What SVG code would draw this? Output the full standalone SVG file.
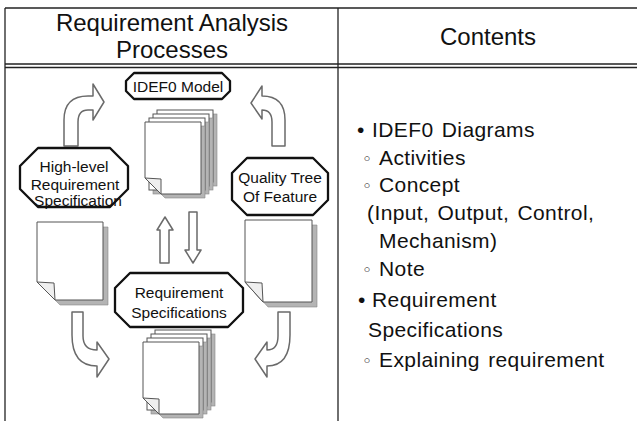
<svg xmlns="http://www.w3.org/2000/svg" width="637" height="421" viewBox="0 0 637 421">
  <style>
    .grid { stroke: #222; stroke-width: 1.3; fill: none; }
    .head { font-family: "Liberation Sans", Arial, sans-serif; font-size: 24px; fill: #111; text-anchor: middle; }
    .node { fill: #fff; stroke: #111; stroke-width: 2.3; stroke-linejoin: round; }
    .lbl { font-family: "Liberation Sans", Arial, sans-serif; font-size: 15.5px; fill: #111; text-anchor: middle; }
    .page { fill: #fff; stroke: #555; stroke-width: 1; }
    .shade { fill: #b4b4b4; stroke: #888; stroke-width: 0.6; }
    .flap { fill: #efefef; stroke: #555; stroke-width: 1; stroke-linejoin: round; }
    .arrow { fill: #fff; stroke: #6a6a6a; stroke-width: 1.5; stroke-linejoin: round; }
    .list { font-family: "Liberation Sans", Arial, sans-serif; font-size: 21px; fill: #111; letter-spacing: 0.4px; word-spacing: 2px; }
    .ring { font-family: "DejaVu Sans", sans-serif; font-size: 17px; }
  </style>

  <defs>
    <!-- one sheet of a stack: plain sheet with drop shadow -->
    <g id="sheet">
      <rect class="shade" x="4" y="4" width="56" height="72"/>
      <rect class="page" x="0" y="0" width="56" height="72"/>
    </g>
    <!-- front sheet with the lower-left corner folded -->
    <g id="frontSheet">
      <path class="shade" d="M4,4 H60 V76 H20 L4,60 Z"/>
      <path class="page" d="M0,0 H56 V72 H16 L0,56 Z"/>
      <path class="flap" d="M0,56 L16,57 L16,72 Z"/>
    </g>
    <!-- four-sheet stack -->
    <g id="stack">
      <use href="#sheet" x="12" y="-12"/>
      <use href="#sheet" x="8" y="-8"/>
      <use href="#sheet" x="4" y="-4"/>
      <use href="#frontSheet"/>
    </g>
  </defs>

  <!-- table frame -->
  <g id="table">
    <line class="grid" x1="5" y1="8" x2="637" y2="8" stroke-width="1.8"/>
    <line class="grid" x1="5" y1="8" x2="5" y2="421"/>
    <line class="grid" x1="338" y1="8" x2="338" y2="421"/>
    <line class="grid" x1="5" y1="64" x2="637" y2="64"/>
    <line class="grid" x1="5" y1="67.5" x2="637" y2="67.5"/>
    <text class="head" x="172" y="31">Requirement Analysis</text>
    <text class="head" x="172" y="58">Processes</text>
    <text class="head" x="488" y="45">Contents</text>
  </g>

  <!-- block arrows between the documents -->
  <g id="connectors">
    <path class="arrow" d="M64,146 L64,120 Q64,96 88,96 L93,96 L93,84 L104,102 L93,120 L93,110 L88,110 Q78,110 78,122 L78,146 Z"/>
    <path class="arrow" d="M285,146 L285,120 Q285,96 262,96 L262,86 L251,103 L262,119 L262,110 Q272,110 272,122 L272,146 Z"/>
    <path class="arrow" d="M72,312 L72,335 Q72,366 97,366 L97,377 L109,359 L97,342 L97,350 Q83,350 83,336 L83,312 Z"/>
    <path class="arrow" d="M290,312 L290,335 Q290,366 267,366 L267,377 L255,359 L267,342 L267,350 Q278,350 278,336 L278,312 Z"/>
    <path class="arrow" d="M160,263 L160,230 L157,230 L165,217 L173,230 L169,230 L169,263 Z"/>
    <path class="arrow" d="M189,212 L189,250 L185,250 L193,263 L201,250 L197,250 L197,212 Z"/>
  </g>

  <g id="idef0-model">
    <path class="node" d="M134,73 H222 L230,81 V91 L222,99 H134 L126,91 V81 Z"/>
    <text class="lbl" x="178" y="92">IDEF0 Model</text>
    <use href="#stack" x="145" y="122"/>
  </g>

  <g id="high-level-spec">
    <path class="node" d="M38,148 H110 L128,166 V189 L110,207 H38 L20,189 V166 Z"/>
    <text class="lbl" x="74" y="172">High-level</text>
    <text class="lbl" x="75" y="190">Requirement</text>
    <text class="lbl" x="78" y="206">Specification</text>
    <g transform="translate(37,222)">
      <path class="shade" d="M5,5 H71 V83 H23 L5,65 Z"/>
      <path class="page" d="M0,0 H66 V78 H18 L0,60 Z"/>
      <path class="flap" d="M0,60 L17,61 L18,78 Z"/>
    </g>
  </g>

  <g id="quality-tree">
    <path class="node" d="M247,158 H313 L328,173 V200 L313,215 H247 L232,200 V173 Z"/>
    <text class="lbl" x="280" y="183">Quality Tree</text>
    <text class="lbl" x="280" y="202">Of Feature</text>
    <g transform="translate(245,220)">
      <path class="shade" d="M5,5 H72 V87 H23 L5,67 Z"/>
      <path class="page" d="M0,0 H67 V82 H18 L0,62 Z"/>
      <path class="flap" d="M0,62 L17,63 L18,82 Z"/>
    </g>
  </g>

  <g id="requirement-specs">
    <path class="node" d="M130,273 H228 L243,288 V312 L228,327 H130 L115,312 V288 Z"/>
    <text class="lbl" x="179" y="298">Requirement</text>
    <text class="lbl" x="179" y="318">Specifications</text>
    <use href="#stack" x="143" y="342"/>
  </g>

  <!-- contents column -->
  <g id="contents">
    <text class="list" y="137"><tspan x="357">•</tspan><tspan x="372">IDEF0  Diagrams</tspan></text>
    <text class="list" y="165"><tspan x="362" class="ring">◦</tspan><tspan x="379">Activities</tspan></text>
    <text class="list" y="192"><tspan x="362" class="ring">◦</tspan><tspan x="379">Concept</tspan></text>
    <text class="list" x="367" y="220">(Input, Output, Control,</text>
    <text class="list" x="379" y="248">Mechanism)</text>
    <text class="list" y="276"><tspan x="362" class="ring">◦</tspan><tspan x="379">Note</tspan></text>
    <text class="list" y="307"><tspan x="358">•</tspan><tspan x="372">Requirement</tspan></text>
    <text class="list" x="368" y="337">Specifications</text>
    <text class="list" y="367"><tspan x="362" class="ring">◦</tspan><tspan x="379">Explaining requirement</tspan></text>
  </g>
</svg>
